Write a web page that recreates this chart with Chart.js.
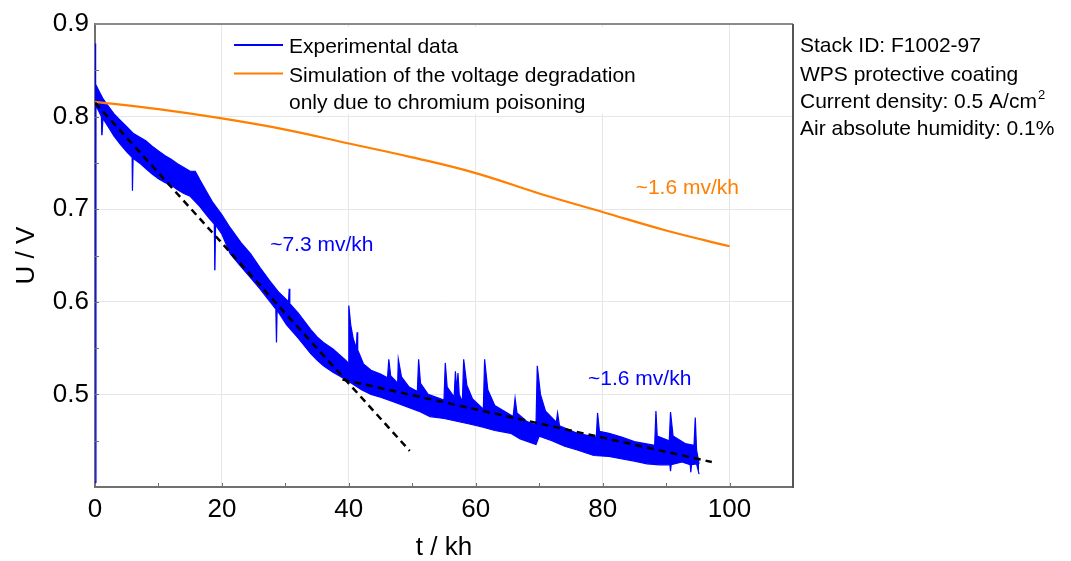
<!DOCTYPE html>
<html>
<head>
<meta charset="utf-8">
<script src="https://cdn.jsdelivr.net/npm/chart.js@4"></script>
<style>
  html, body { margin: 0; padding: 0; background: #fff; }
  #wrap { width: 1071px; height: 561px; }
</style>
</head>
<body>
<div id="wrap"><canvas id="myChart" width="1071" height="561"></canvas></div>
<script>
// experimental voltage, read as upper / lower edge of the noisy band (t in kh, U in V)
const upperT = [0, 0.1, 0.6, 1.2, 2, 3, 4, 5, 6, 7, 8, 9, 10, 11, 12, 13, 14, 15, 15.8, 16.5, 17.5, 18.5, 20, 21.3, 23, 24.5, 26, 27.6, 29,
  30.5, 30.6, 30.7, 32, 34, 35, 36, 37.5, 39.5, 39.9, 40.0, 40.3, 40.7, 41.2, 41.3, 41.4, 42.3, 43.5, 45, 46.1, 46.3, 46.6, 47.3, 47.7,
  47.8, 48.3, 49.5, 50.8, 51.0, 51.3, 52.5, 55.0, 55.2, 55.5, 56.6, 56.8, 57.0, 57.2, 57.4, 57.9, 58.1, 58.6, 59.5, 61.2, 61.4,
  61.9, 63.0, 65.9, 66.2, 66.5, 68.0, 69.5, 69.7, 70.2, 71.0, 72.7, 72.9, 73.2, 76, 79.0, 79.2, 79.5, 81, 83, 85, 88.2, 88.4,
  88.6, 90.5, 90.7, 91.1, 93, 94.4, 94.6, 94.8, 95.2]
const upperU = [0.879, 0.835, 0.828, 0.820, 0.812, 0.803, 0.796, 0.789, 0.782, 0.778, 0.774, 0.768, 0.763, 0.758, 0.754, 0.749, 0.745, 0.741, 0.741, 0.732, 0.720, 0.708, 0.694, 0.680, 0.664, 0.652, 0.637, 0.622, 0.610,
  0.600, 0.614, 0.598, 0.588, 0.570, 0.562, 0.556, 0.549, 0.537, 0.534, 0.596, 0.575, 0.560, 0.550, 0.567, 0.548, 0.533, 0.526, 0.522, 0.518, 0.538, 0.520, 0.515, 0.512,
  0.538, 0.519, 0.508, 0.503, 0.538, 0.512, 0.500, 0.494, 0.534, 0.508, 0.497, 0.525, 0.504, 0.523, 0.500, 0.492, 0.538, 0.510, 0.495, 0.484, 0.538,
  0.505, 0.488, 0.476, 0.496, 0.480, 0.471, 0.467, 0.531, 0.500, 0.482, 0.470, 0.480, 0.466, 0.458, 0.454, 0.480, 0.460, 0.458, 0.454, 0.449, 0.445, 0.482,
  0.455, 0.450, 0.481, 0.455, 0.447, 0.445, 0.475, 0.440, 0.425]
const lowerT = [0, 0.15, 1, 1.1, 1.25, 2, 3, 4, 5, 5.85, 5.9, 6.0, 7, 8, 9, 10, 11, 12, 13, 14, 15, 16.5, 18, 18.8, 18.9, 19.0, 20, 21.3, 23, 24.5, 26,
  27.6, 28.5, 28.6, 28.7, 30.2, 32, 34, 35, 36, 37.5, 39.5, 40, 42, 43.5, 45, 47, 49, 51, 52.8, 55, 57, 59, 61, 63, 65.5, 67, 69.5,
  70, 72, 74, 76, 78.6, 81, 83.3, 85, 87, 89, 90.6, 90.7, 90.8, 92.5, 93.8, 93.9, 94.0, 94.8, 95.2]
const lowerU = [0.405, 0.812, 0.800, 0.780, 0.798, 0.790, 0.779, 0.770, 0.762, 0.756, 0.720, 0.755, 0.750, 0.744, 0.738, 0.733, 0.729, 0.726, 0.721, 0.717, 0.714, 0.703, 0.690, 0.684, 0.634, 0.683, 0.673, 0.652, 0.638, 0.626, 0.614,
  0.600, 0.592, 0.556, 0.591, 0.575, 0.561, 0.544, 0.537, 0.531, 0.524, 0.516, 0.514, 0.505, 0.500, 0.497, 0.492, 0.487, 0.482, 0.476, 0.474, 0.471, 0.468, 0.465, 0.461, 0.458, 0.452, 0.446,
  0.455, 0.450, 0.444, 0.440, 0.434, 0.433, 0.430, 0.428, 0.425, 0.424, 0.424, 0.417, 0.424, 0.427, 0.424, 0.416, 0.424, 0.425, 0.414]

// simulation: degradation only due to chromium poisoning
const simT = [0, 10, 20, 30, 40, 50, 60, 70, 80, 90, 100]
const simU = [0.816, 0.808, 0.798, 0.786, 0.771, 0.756, 0.739, 0.717, 0.697, 0.677, 0.660]

// linear fits (dashed)
const fit1T = [0, 49.6]
const fit1U = [0.815, 0.439]
const fit2T = [39, 97.2]
const fit2U = [0.516, 0.427]

const blue = '#0000ff'
const orange = '#ff7f00'
const font = "'Liberation Sans', Arial, sans-serif"

const pts = (ts, us) => ts.map((t, i) => ({ x: t, y: us[i] }))

const notes = [
  { text: '~7.3 mv/kh', t: 27.6, u: 0.655, color: blue },
  { text: '~1.6 mv/kh', t: 77.7, u: 0.510, color: blue },
  { text: '~1.6 mv/kh', t: 85.2, u: 0.716, color: orange }
]

const sideLines = ['Stack ID: F1002-97', 'WPS protective coating', 'Current density: 0.5 A/cm', 'Air absolute humidity: 0.1%']

const extras = {
  id: 'extras',
  afterDatasetsDraw(chart) {
    const { ctx, scales: { x, y } } = chart
    ctx.save()
    // legend box
    ctx.fillStyle = '#fff'
    ctx.fillRect(226, 27, 424, 87)
    ctx.lineWidth = 2
    ctx.strokeStyle = blue
    ctx.beginPath(); ctx.moveTo(234, 45); ctx.lineTo(283, 45); ctx.stroke()
    ctx.strokeStyle = orange
    ctx.beginPath(); ctx.moveTo(234, 73.5); ctx.lineTo(283, 73.5); ctx.stroke()
    ctx.fillStyle = '#000'
    ctx.font = '21px ' + font
    ctx.textBaseline = 'alphabetic'
    ctx.fillText('Experimental data', 289, 53.3)
    ctx.fillText('Simulation of the voltage degradation', 289, 81.7)
    ctx.fillText('only due to chromium poisoning', 289, 109.3)
    // slope notes
    notes.forEach(n => {
      ctx.fillStyle = n.color
      ctx.fillText(n.text, x.getPixelForValue(n.t), y.getPixelForValue(n.u))
    })
    ctx.restore()
  },
  afterDraw(chart) {
    const { ctx, chartArea: a, scales: { x, y } } = chart
    ctx.save()
    // inward ticks
    ctx.strokeStyle = '#707070'
    ctx.lineWidth = 1
    ctx.beginPath()
    for (let v = 10; v < 110; v += 10) {
      const px = Math.round(x.getPixelForValue(v)) + 0.5
      ctx.moveTo(px, a.bottom); ctx.lineTo(px, a.bottom - 4)
    }
    for (let k = 9; k < 18; k++) {
      const py = Math.round(y.getPixelForValue(k * 0.05)) + 0.5
      ctx.moveTo(a.left, py); ctx.lineTo(a.left + 4, py)
    }
    ctx.stroke()
    // frame top / right
    ctx.lineWidth = 2
    ctx.strokeStyle = '#8a8a8a'
    ctx.beginPath(); ctx.moveTo(a.left, a.top); ctx.lineTo(a.right, a.top); ctx.stroke()
    ctx.strokeStyle = '#555'
    ctx.beginPath(); ctx.moveTo(a.right, a.top); ctx.lineTo(a.right, a.bottom + 1); ctx.stroke()
    // side info
    ctx.fillStyle = '#000'
    ctx.font = '21px ' + font
    const base = [51.7, 81, 108.3, 135]
    sideLines.forEach((s, i) => ctx.fillText(s, 800, base[i]))
    const w = ctx.measureText(sideLines[2]).width
    ctx.font = '13px ' + font
    ctx.fillText('2', 800 + w + 1, 99)
    ctx.restore()
  }
}

Chart.defaults.font.family = font

new Chart(document.getElementById('myChart').getContext('2d'), {
  type: 'line',
  data: {
    datasets: [
      { data: pts(lowerT, lowerU), borderColor: blue, borderWidth: 1.2, pointRadius: 0, fill: false, order: 3 },
      { data: pts(upperT, upperU), borderColor: blue, borderWidth: 1.2, pointRadius: 0, fill: '-1', backgroundColor: blue, order: 3 },
      { data: pts(simT, simU), borderColor: orange, borderWidth: 2.2, pointRadius: 0, tension: 0.4, fill: false, order: 2 },
      { data: pts(fit1T, fit1U), borderColor: '#000', borderWidth: 2.5, borderDash: [7, 5], pointRadius: 0, fill: false, order: 1 },
      { data: pts(fit2T, fit2U), borderColor: '#000', borderWidth: 2.5, borderDash: [7, 5], pointRadius: 0, fill: false, order: 1 }
    ]
  },
  options: {
    responsive: false,
    animation: false,
    layout: { padding: { left: 0, top: 24, right: 278, bottom: 0 } },
    plugins: { legend: { display: false }, tooltip: { enabled: false } },
    scales: {
      x: {
        type: 'linear',
        min: 0,
        max: 110,
        afterFit: s => { s.height = 74 },
        ticks: { stepSize: 20, includeBounds: false, color: '#000', font: { size: 26 }, padding: 7, maxRotation: 0 },
        grid: { color: '#e6e6e6', drawTicks: false },
        border: { color: '#707070', width: 2 },
        title: { display: true, text: 't / kh', color: '#000', font: { size: 26, lineHeight: 1 }, padding: { top: 0, bottom: 0 } }
      },
      y: {
        min: 0.4,
        max: 0.9,
        afterFit: s => { s.width = 95 },
        ticks: {
          stepSize: 0.1,
          color: '#000',
          font: { size: 26 },
          padding: 6,
          callback: v => Math.abs(v - 0.4) < 1e-6 ? '' : v.toFixed(1)
        },
        grid: { color: '#e6e6e6', drawTicks: false },
        border: { color: '#707070', width: 2 },
        title: { display: true, text: 'U / V', color: '#000', font: { size: 26, lineHeight: 1 }, padding: { top: 14, bottom: 0 } }
      }
    }
  },
  plugins: [extras]
})
</script>
</body>
</html>
